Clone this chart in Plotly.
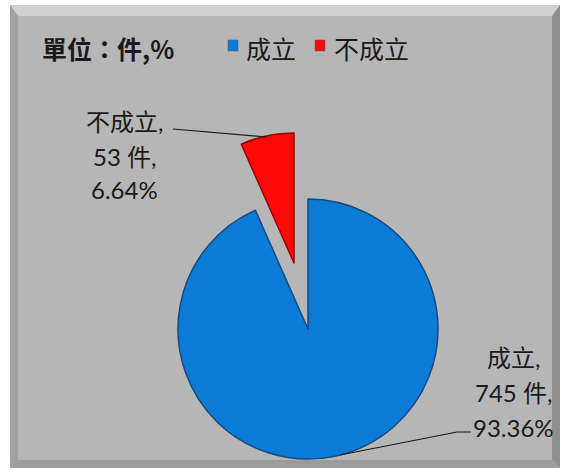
import plotly.graph_objects as go

# ---- data ----
categories = ["成立", "不成立"]
counts = [745, 53]
percents = [93.36, 6.64]
colors = ["#0b7bd6", "#ff0808"]
edge_colors = ["#184a80", "#9a0000"]
title_text = "單位：件,%"

W, H = 569, 474
def X(px): return px / W
def Y(py): return 1 - py / H

fig = go.Figure()

# main (blue) pie and exploded (red) slice drawn as two traces with shifted domains
R = 130
centers = [(308, 329), (294, 263)]
for i, (cx, cy) in enumerate(centers):
    cols = [c if j == i else "rgba(0,0,0,0)" for j, c in enumerate(colors)]
    lcols = [c if j == i else "rgba(0,0,0,0)" for j, c in enumerate(edge_colors)]
    fig.add_trace(go.Pie(
        labels=categories, values=counts, sort=False, direction="clockwise",
        rotation=0, textinfo="none", hoverinfo="label+value+percent",
        marker=dict(colors=cols, line=dict(color=lcols, width=1.5)),
        domain=dict(x=[X(cx - R), X(cx + R)], y=[Y(cy + R), Y(cy - R)]),
        showlegend=False,
    ))

shapes = []
# frame with bevel
shapes.append(dict(type="rect", xref="paper", yref="paper", x0=X(10), x1=X(560),
                   y0=Y(468), y1=Y(5), fillcolor="#b6b6b6", line=dict(width=0), layer="below"))
def poly(pts, col):
    d = "M " + " L ".join(f"{X(a):.5f},{Y(b):.5f}" for a, b in pts) + " Z"
    return dict(type="path", xref="paper", yref="paper", path=d, fillcolor=col,
                line=dict(width=0), layer="below")
shapes.append(poly([(10, 5), (560, 5), (552, 16), (18, 16)], "#d0d0d0"))
shapes.append(poly([(10, 5), (18, 16), (18, 460), (10, 468)], "#a2a2a2"))
shapes.append(poly([(560, 5), (552, 16), (552, 460), (560, 468)], "#8e8e8e"))
shapes.append(poly([(10, 468), (18, 460), (552, 460), (560, 468)], "#9c9c9c"))

# legend squares
for (x0, x1), c in zip([(228, 238), (315, 325)], colors):
    shapes.append(dict(type="rect", xref="paper", yref="paper", x0=X(x0), x1=X(x1),
                       y0=Y(51), y1=Y(40), fillcolor=c, line=dict(color="#555555", width=0.5)))

# leader lines
shapes.append(dict(type="path", xref="paper", yref="paper",
                   path=f"M {X(173)},{Y(129)} L {X(267)},{Y(137)}",
                   line=dict(color="#1a1a1a", width=1.2)))
shapes.append(dict(type="path", xref="paper", yref="paper",
                   path=f"M {X(340)},{Y(455)} L {X(457)},{Y(432)} L {X(471)},{Y(432)}",
                   line=dict(color="#1a1a1a", width=1.2)))

annotations = []
font_cjk = "Noto Sans CJK TC"
font_lbl = "Lato, Noto Sans CJK TC"
annotations.append(dict(text=f"<b>{title_text}</b>", x=X(40), y=Y(48), xref="paper", yref="paper",
                        xanchor="left", yanchor="middle", showarrow=False,
                        font=dict(family=font_cjk, size=25, color="#1a1a1a")))
for name, xl in zip(categories, [244, 332]):
    annotations.append(dict(text=name, x=X(xl), y=Y(48), xref="paper", yref="paper",
                            xanchor="left", yanchor="middle", showarrow=False,
                            font=dict(family=font_cjk, size=25, color="#1a1a1a")))

# data labels (one text line each)
label_pos = {"成立": (513, [357, 392, 427]), "不成立": (124, [122, 156, 189])}
for name, n, p in zip(categories, counts, percents):
    lines = [f"{name},", f"{n} 件,", f"{p:.2f}%"]
    cx, ys = label_pos[name]
    for t, yy in zip(lines, ys):
        annotations.append(dict(text=t, x=X(cx), y=Y(yy), xref="paper", yref="paper",
                                xanchor="center", yanchor="middle", showarrow=False,
                                font=dict(family=font_lbl, size=24, color="#1a1a1a")))

fig.update_layout(width=W, height=H, margin=dict(l=0, r=0, t=0, b=0),
                  paper_bgcolor="white", plot_bgcolor="white",
                  shapes=shapes, annotations=annotations, showlegend=False)

fig.write_html("out.html", config={"displayModeBar": False},
               post_script="document.body.style.margin='0';document.body.style.overflow='hidden';")
